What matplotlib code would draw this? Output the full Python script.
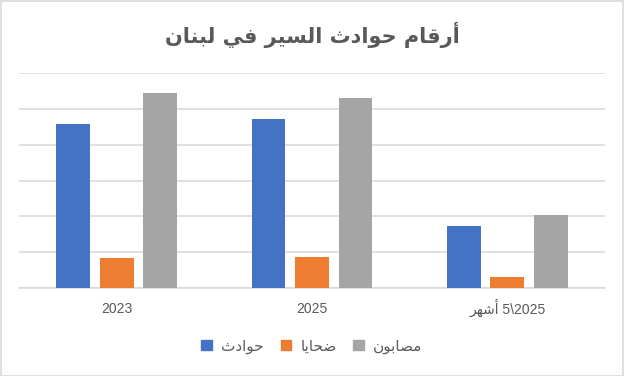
import numpy as np
import matplotlib
matplotlib.use("Agg")
import matplotlib.pyplot as plt
from matplotlib.patches import Patch, Rectangle

# ---- data ----
title = "أرقام حوادث السير في لبنان"
categories = ["2023", "2025", "5\\2025 أشهر"]
series_names = ["حوادث", "ضحايا", "مصابون"]
accidents = [2290, 2355, 865]
deaths = [425, 435, 155]
injured = [2715, 2650, 1025]
colors = ["#4472C4", "#ED7D31", "#A5A5A5"]

# ---- minimal Arabic shaping (contextual forms + visual order) ----
FORMS = {
    "\u0623": ("\uFE83", "\uFE84"),
    "\u0627": ("\uFE8D", "\uFE8E"),
    "\u0631": ("\uFEAD", "\uFEAE"),
    "\u062F": ("\uFEA9", "\uFEAA"),
    "\u0648": ("\uFEED", "\uFEEE"),
    "\u0642": ("\uFED5", "\uFED6", "\uFED7", "\uFED8"),
    "\u0645": ("\uFEE1", "\uFEE2", "\uFEE3", "\uFEE4"),
    "\u062D": ("\uFEA1", "\uFEA2", "\uFEA3", "\uFEA4"),
    "\u062B": ("\uFE99", "\uFE9A", "\uFE9B", "\uFE9C"),
    "\u0644": ("\uFEDD", "\uFEDE", "\uFEDF", "\uFEE0"),
    "\u0633": ("\uFEB1", "\uFEB2", "\uFEB3", "\uFEB4"),
    "\u064A": ("\uFEF1", "\uFEF2", "\uFEF3", "\uFEF4"),
    "\u0641": ("\uFED1", "\uFED2", "\uFED3", "\uFED4"),
    "\u0628": ("\uFE8F", "\uFE90", "\uFE91", "\uFE92"),
    "\u0646": ("\uFEE5", "\uFEE6", "\uFEE7", "\uFEE8"),
    "\u0636": ("\uFEBD", "\uFEBE", "\uFEBF", "\uFEC0"),
    "\u0635": ("\uFEB9", "\uFEBA", "\uFEBB", "\uFEBC"),
    "\u0634": ("\uFEB5", "\uFEB6", "\uFEB7", "\uFEB8"),
    "\u0647": ("\uFEE9", "\uFEEA", "\uFEEB", "\uFEEC"),
}


def shape_word(w):
    if not any(c in FORMS for c in w):
        return w
    out = []
    n = len(w)
    for i, c in enumerate(w):
        f = FORMS.get(c)
        if f is None:
            out.append(c)
            continue
        prev_joins = i > 0 and w[i - 1] in FORMS and len(FORMS[w[i - 1]]) == 4
        next_joins = i < n - 1 and w[i + 1] in FORMS and len(f) == 4
        if prev_joins and next_joins:
            out.append(f[3])
        elif prev_joins:
            out.append(f[1])
        elif next_joins:
            out.append(f[2])
        else:
            out.append(f[0])
    return "".join(reversed(out))


def rtl(text):
    words = text.split(" ")
    if not any(any(c in FORMS for c in w) for w in words):
        return text
    return " ".join(shape_word(w) for w in reversed(words))


# ---- figure ----
W, H = 624, 376
fig = plt.figure(figsize=(W / 100, H / 100), dpi=100)
fig.patch.set_facecolor("white")
fig.patches.append(Rectangle((0.5 / W, 0.5 / H), 1 - 1.5 / W, 1 - 1.5 / H,
                             transform=fig.transFigure, fill=False,
                             edgecolor="#D9D9D9", lw=1.2))

ax = fig.add_axes([19 / W, (H - 288.3) / H, 586 / W, (288.3 - 72.7) / H])
x = np.arange(len(categories))
off = 0.222
bw = 0.1725
for vals, dx, col in zip([accidents, deaths, injured], [-off, 0, off], colors):
    ax.bar(x + dx, vals, width=bw, color=col, zorder=3)

ax.set_xlim(-0.5, len(categories) - 0.5)
ax.set_ylim(0, 3000)
ax.set_yticks(np.arange(0, 3001, 500))
ax.yaxis.grid(True, color="#D9D9D9", lw=1.1, zorder=0)
ax.tick_params(axis="y", left=False, labelleft=False)
ax.tick_params(axis="x", length=0, pad=18)
ax.set_xticks(x)
ax.set_xticklabels([rtl(c) for c in categories],
                   family=["Liberation Sans", "DejaVu Sans"],
                   fontsize=10, color="#595959")
for lbl in ax.get_xticklabels():
    lbl.set_verticalalignment("baseline")
for s in ["top", "left", "right"]:
    ax.spines[s].set_visible(False)
ax.spines["bottom"].set_color("#D9D9D9")
ax.spines["bottom"].set_linewidth(1.1)
ax.set_facecolor("white")

fig.text(0.5, 1 - 35 / H, rtl(title), ha="center", va="center",
         fontsize=15, fontweight="bold", color="#595959",
         family=["DejaVu Sans"])

handles = [Patch(facecolor=c, edgecolor=c) for c in colors]
fig.legend(handles, [rtl(s) for s in series_names], loc="center",
           bbox_to_anchor=(0.5, 1 - 346 / H), ncol=3, frameon=False,
           prop={"family": ["DejaVu Sans"], "size": 11},
           labelcolor="#595959", handlelength=0.7, handleheight=0.7,
           handletextpad=0.6, columnspacing=1.1)

fig.savefig("out.png", dpi=100, facecolor="white")
